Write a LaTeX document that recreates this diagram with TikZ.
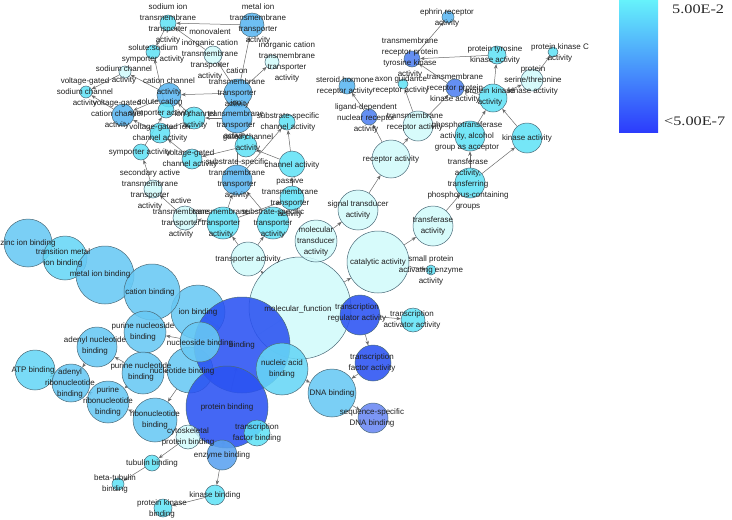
\documentclass[tikz,border=0pt]{standalone}
\usepackage{fontspec}
\usepackage{graphicx}
\setmainfont{Liberation Sans}
\newfontfamily\barfont{Liberation Serif}
\usetikzlibrary{arrows.meta}
\pgfdeclarelayer{bg}\pgfdeclarelayer{fg}\pgfsetlayers{bg,main,fg}
\definecolor{pale}{HTML}{D2FAFB}
\definecolor{cyan1}{HTML}{62E2F6}
\definecolor{mblue}{HTML}{5AB6F1}
\definecolor{lblue}{HTML}{68C8F4}
\definecolor{lcyan}{HTML}{66D6F6}
\definecolor{dblue}{HTML}{2A52F2}
\definecolor{rblue}{HTML}{4E80F0}
\definecolor{sblue}{HTML}{6A88F2}
\definecolor{eblue}{HTML}{5AA2F0}
\definecolor{bordc}{HTML}{4A6A78}
\definecolor{edgec}{HTML}{6A6A6A}
\definecolor{barTop}{HTML}{66F2FB}
\definecolor{barBot}{HTML}{2C3CFC}
\tikzset{
 gocirc/.style={circle, draw=bordc, line width=0.5pt, inner sep=0pt, fill opacity=0.88},
 golab/.style={align=center, font=\fontsize{8}{11}\selectfont, text=black!88, inner sep=0pt},
 goedge/.style={draw=edgec, line width=0.5pt, -{Stealth[length=4.5pt,width=3.5pt]}},
 barlab/.style={anchor=west, font=\barfont\fontsize{13}{13}\selectfont, text=black!85, inner sep=0pt}
}
\newcommand{\gn}[8]{%
 \node[gocirc, minimum size=#4*2pt, fill=#5] (#1) at (#2,#3) {};
 \begin{pgfonlayer}{fg}\node[golab] at (#6,#7) {#8};\end{pgfonlayer}}
\begin{document}
\begin{tikzpicture}[x=1pt,y=-1pt]
\useasboundingbox (0,0) rectangle (732,520);
% colour bar
\shade[top color=barTop, bottom color=barBot] (619,0) rectangle (658,132);
\node[barlab] (bartop) at (672,9) {\scalebox{1.25}[1]{5.00E-2}};
\node[barlab] (barbot) at (664,121) {\scalebox{1.25}[1]{<5.00E-7}};
% big nodes first
\gn{molfun}{300}{308}{51}{pale}{298}{309}{molecular\_function}
\gn{ionbind}{198}{312}{27}{lblue}{198}{312}{ion binding}
\gn{nucleo}{190}{370}{23}{lblue}{182}{371}{nucleotide binding}
\gn{binding}{242}{345}{48}{dblue}{242}{345}{binding}
\gn{nucs}{200}{342}{20}{lblue}{200}{343}{nucleoside binding}
\gn{protbind}{227}{407}{41}{dblue}{227}{407}{protein binding}
% transporter cluster
\gn{sodiumion}{168}{23}{8}{cyan1}{168}{24}{sodium ion\\transmembrane\\transporter\\activity}
\gn{metalion}{252}{25}{12}{mblue}{258}{24}{metal ion\\transmembrane\\transporter\\activity}
\gn{monoval}{213}{55}{9}{pale}{210}{54}{monovalent\\inorganic cation\\transmembrane\\transporter\\activity}
\gn{inorgcat}{272}{62}{7}{pale}{287}{62}{inorganic cation\\transmembrane\\transporter\\activity}
\gn{solsod}{153}{52}{7}{cyan1}{153}{54}{solute:sodium\\symporter activity}
\gn{sodch}{125}{72}{6}{pale}{124}{75}{sodium channel\\activity}
\gn{vgsod}{86}{92}{6}{cyan1}{85}{92}{voltage-gated\\sodium channel\\activity}
\gn{catch}{169}{95}{12}{mblue}{169}{87}{cation channel\\activity}
\gn{vgcat}{123}{115}{11}{mblue}{117}{114}{voltage-gated\\cation channel\\activity}
\gn{solcat}{166}{110}{8}{cyan1}{160}{108}{solute:cation\\symporter activity}
\gn{ionch}{194}{118}{11}{cyan1}{195}{120}{ion channel\\activity}
\gn{vgion}{160}{133}{10}{cyan1}{160}{133}{voltage-gated ion\\channel activity}
\gn{symp}{141}{152}{8}{cyan1}{140}{152}{symporter activity}
\gn{vgch}{192}{159}{10}{cyan1}{190}{159}{voltage-gated\\channel activity}
\gn{cattm}{238}{93}{14}{mblue}{237}{88}{cation\\transmembrane\\transporter\\activity}
\gn{iontm}{237}{118}{15}{mblue}{236}{120}{ion\\transmembrane\\transporter\\activity}
\gn{gatedch}{246}{146}{11}{cyan1}{248}{143}{gated channel\\activity}
\gn{sschan}{287}{122}{8}{cyan1}{288}{122}{substrate-specific\\channel activity}
\gn{chan}{292}{164}{13}{cyan1}{292}{165}{channel activity}
\gn{passive}{292}{198}{12}{cyan1}{290}{198}{passive\\transmembrane\\transporter\\activity}
\gn{sstm}{237}{180}{15}{mblue}{237}{179}{substrate-specific\\transmembrane\\transporter\\activity}
\gn{secact}{153}{189}{9}{pale}{150}{190}{secondary active\\transmembrane\\transporter\\activity}
\gn{acttm}{185}{218}{12}{pale}{181}{218}{active\\transmembrane\\transporter\\activity}
\gn{tmtr}{223}{223}{16}{cyan1}{221}{223}{transmembrane\\transporter\\activity}
\gn{sstr}{273}{223}{16}{cyan1}{273}{223}{substrate-specific\\transporter\\activity}
\gn{transp}{248}{259}{17}{pale}{248}{259}{transporter activity}
\gn{moltrans}{316}{241}{21}{pale}{316}{241}{molecular\\transducer\\activity}
% receptor / kinase cluster
\gn{ephrin}{448}{17}{6}{mblue}{447}{18}{ephrin receptor\\activity}
\gn{tmrptk}{412}{59}{8}{rblue}{410}{58}{transmembrane\\receptor protein\\tyrosine kinase\\activity}
\gn{tmrpk}{455}{88}{9}{rblue}{455}{88}{transmembrane\\receptor protein\\kinase activity}
\gn{ptk}{497}{55}{9}{cyan1}{495}{55}{protein tyrosine\\kinase activity}
\gn{pkc}{553}{52}{5}{cyan1}{560}{53}{protein kinase C\\activity}
\gn{pst}{532}{80}{11}{pale}{533}{80}{protein\\serine/threonine\\kinase activity}
\gn{pk}{493}{98}{14}{cyan1}{490}{97}{protein kinase\\activity}
\gn{kinase}{527}{138}{15}{cyan1}{527}{138}{kinase activity}
\gn{phosalc}{470}{136}{15}{cyan1}{467}{136}{phosphotransferase\\activity, alcohol\\group as acceptor}
\gn{steroid}{347}{86}{8}{mblue}{345}{86}{steroid hormone\\receptor activity}
\gn{axon}{403}{84}{5}{cyan1}{401}{85}{axon guidance\\receptor activity}
\gn{ligand}{369}{117}{8}{rblue}{366}{118}{ligand-dependent\\nuclear receptor\\activity}
\gn{tmrec}{418}{126}{15}{pale}{415}{122}{transmembrane\\receptor activity}
\gn{receptor}{391}{159}{19}{pale}{391}{159}{receptor activity}
\gn{sigtrans}{358}{210}{20}{pale}{358}{210}{signal transducer\\activity}
\gn{tphos}{470}{183}{15}{cyan1}{468}{184}{transferase\\activity,\\transferring\\phosphorus-containing\\groups}
\gn{transf}{433}{226}{20}{pale}{433}{226}{transferase\\activity}
\gn{catal}{378}{262}{31}{pale}{378}{262}{catalytic activity}
\gn{smallprot}{431}{270}{5}{cyan1}{431}{270}{small protein\\activating enzyme\\activity}
% transcription / DNA
\gn{treg}{360}{315}{20}{dblue}{357}{313}{transcription\\regulator activity}
\gn{tact}{413}{320}{12}{cyan1}{412}{320}{transcription\\activator activity}
\gn{tfact}{373}{363}{18}{dblue}{372}{363}{transcription\\factor activity}
\gn{dna}{332}{393}{24}{lblue}{332}{393}{DNA binding}
\gn{seqdna}{373}{418}{15}{sblue}{372}{418}{sequence-specific\\DNA binding}
\gn{nucacid}{282}{369}{26}{lcyan}{282}{369}{nucleic acid\\binding}
% binding cluster
\gn{zinc}{28}{243}{24}{lblue}{28}{243}{zinc ion binding}
\gn{transmetal}{65}{258}{22}{lcyan}{63}{258}{transition metal\\ion binding}
\gn{metalbind}{105}{275}{29}{lblue}{100}{274}{metal ion binding}
\gn{catbind}{152}{292}{28}{lblue}{150}{292}{cation binding}
\gn{purnucs}{145}{332}{21}{lblue}{143}{332}{purine nucleoside\\binding}
\gn{adennuc}{97}{347}{20}{lblue}{95}{346}{adenyl nucleotide\\binding}
\gn{purnuc}{143}{373}{21}{lblue}{141}{372}{purine nucleotide\\binding}
\gn{atp}{35}{370}{20}{lcyan}{33}{370}{ATP binding}
\gn{adenribo}{71}{383}{19}{lblue}{70}{383}{adenyl\\ribonucleotide\\binding}
\gn{puribo}{108}{402}{21}{lblue}{108}{401}{purine\\ribonucleotide\\binding}
\gn{ribonuc}{155}{420}{22}{lblue}{155}{420}{ribonucleotide\\binding}
\gn{cytobind}{188}{437}{12}{pale}{188}{437}{cytoskeletal\\protein binding}
\gn{tubbind}{152}{463}{8}{cyan1}{152}{463}{tubulin binding}
\gn{betatub}{118}{484}{6}{cyan1}{115}{484}{beta-tubulin\\binding}
\gn{tfbind}{257}{433}{13}{cyan1}{257}{433}{transcription\\factor binding}
\gn{enzbind}{222}{455}{15}{eblue}{222}{455}{enzyme binding}
\gn{kinbind}{215}{495}{10}{cyan1}{215}{495}{kinase binding}
\gn{pkbind}{163}{508}{9}{cyan1}{162}{509}{protein kinase\\binding}
% edges
\begin{pgfonlayer}{bg}
\foreach \a/\b in {molfun/transp, molfun/moltrans, molfun/catal, molfun/binding, molfun/treg,
 transp/tmtr, transp/sstr, tmtr/acttm, tmtr/sstm, tmtr/passive, sstr/sstm,
 acttm/secact, secact/symp, symp/solcat, solcat/solsod, sodiumion/solsod,
 sstm/iontm, iontm/cattm, iontm/ionch, cattm/catch, cattm/monoval, cattm/inorgcat, cattm/metalion,
 metalion/sodiumion, monoval/sodiumion, catch/sodch, sodch/vgsod, vgcat/vgsod, catch/vgcat,
 ionch/catch, ionch/vgion, vgion/vgcat, vgch/vgion, gatedch/vgch, chan/gatedch, chan/sschan,
 sstm/sschan, passive/chan,
 moltrans/sigtrans, sigtrans/receptor, receptor/tmrec, receptor/ligand, ligand/steroid,
 tmrec/axon, tmrec/tmrpk, tmrpk/tmrptk, tmrptk/ephrin, ptk/tmrptk, pk/ptk, pk/tmrpk, pk/pst,
 pst/pkc, kinase/pk, phosalc/pk, tphos/phosalc, tphos/kinase, transf/tphos, catal/transf,
 catal/smallprot,
 treg/tact, treg/tfact, tfact/dna, nucacid/dna, dna/seqdna,
 binding/nucacid, binding/ionbind, binding/protbind, binding/nucs, binding/nucleo,
 ionbind/catbind, catbind/metalbind, metalbind/transmetal, transmetal/zinc,
 nucs/purnucs, nucleo/purnuc, nucleo/ribonuc, purnuc/adennuc, purnuc/puribo, ribonuc/puribo,
 puribo/adenribo, adennuc/adenribo, adenribo/atp,
 protbind/cytobind, protbind/tfbind, protbind/enzbind, cytobind/tubbind, tubbind/betatub,
 enzbind/kinbind, kinbind/pkbind}
 \draw[goedge] (\a) -- (\b);
\end{pgfonlayer}
\end{tikzpicture}
\end{document}
